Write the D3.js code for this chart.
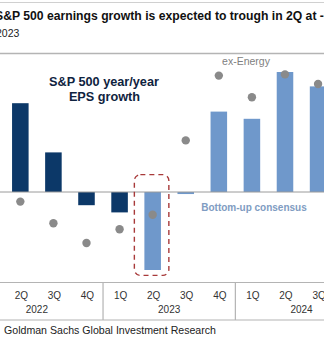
<!DOCTYPE html>
<html>
<head>
<meta charset="utf-8">
<script src="https://cdn.jsdelivr.net/npm/d3@7"></script>
<style>
  html, body { margin: 0; padding: 0; background: #fff; overflow: hidden; }
  svg { display: block; font-family: "Liberation Sans", Arial, sans-serif; }
</style>
</head>
<body>
<svg id="chart" width="324" height="338"></svg>
<script>
// Quarterly S&P 500 EPS growth, year/year (%)
const quarters = ["1Q", "2Q", "3Q", "4Q", "1Q", "2Q", "3Q", "4Q", "1Q", "2Q", "3Q", "4Q"];
const years    = ["2022", "2022", "2022", "2022", "2023", "2023", "2023", "2023", "2024", "2024", "2024", "2024"];
const categories = quarters.map((q, i) => q + years[i].slice(2));
// Bottom-up consensus / reported growth, all sectors
const epsGrowth      = [null, 7.4, 3.3, -1.1, -1.7, -6.5, -0.17, 6.7, 6.1, 10.0, 8.8, null];
// Growth excluding the Energy sector
const exEnergyGrowth = [null, -0.8, -2.6, -4.25, -3.1, -1.9, 4.3, 9.7, 7.9, 9.8, 9.0, null];
const reportedThrough = "1Q23";
const troughQuarter = "2Q23";
const yearGroups = ["2022", "2023", "2024"];

const colors = {
  reported: "#0c3868",
  estimate: "#6f98cb",
  exEnergy: "#8a8a8a",
  rule: "#b4b4b4",
  text: "#333333",
  callout: "#a83a3a"
};

const svg = d3.select("#chart");

// Header
svg.append("line").attr("x1", 0).attr("x2", 324).attr("y1", 2.5).attr("y2", 2.5)
  .attr("stroke", "#d0d0d0").attr("stroke-width", 1);
svg.append("text").attr("x", -5).attr("y", 20)
  .attr("font-size", 12.2).attr("font-weight", "bold").attr("fill", "#111")
  .text("S&P 500 earnings growth is expected to trough in 2Q at -6%");
svg.append("text").attr("x", -4).attr("y", 36.5)
  .attr("font-size", 10.5).attr("fill", "#222")
  .text("2023");
svg.append("line").attr("x1", 0).attr("x2", 324).attr("y1", 53.5).attr("y2", 53.5)
  .attr("stroke", colors.rule).attr("stroke-width", 1.6);

// Scales
const x = d3.scaleBand().domain(categories).range([-29.3, 367.7])
  .paddingInner(0.5).paddingOuter(0.25);
const y = d3.scaleLinear().domain([0, 10]).range([192, 72]);

const rows = categories.map((c, i) => ({
  cat: c, eps: epsGrowth[i], exE: exEnergyGrowth[i],
  reported: i <= categories.indexOf(reportedThrough)
}));

// Bars
svg.append("g").selectAll("rect")
  .data(rows.filter(d => d.eps !== null))
  .join("rect")
  .attr("x", d => x(d.cat))
  .attr("width", x.bandwidth())
  .attr("y", d => y(Math.max(0, d.eps)))
  .attr("height", d => Math.abs(y(d.eps) - y(0)))
  .attr("fill", d => d.reported ? colors.reported : colors.estimate);

// Zero line
svg.append("line").attr("x1", 0).attr("x2", 324)
  .attr("y1", y(0)).attr("y2", y(0))
  .attr("stroke", "#9a9a9a").attr("stroke-width", 1);

// Ex-Energy markers
svg.append("g").selectAll("circle")
  .data(rows.filter(d => d.exE !== null))
  .join("circle")
  .attr("cx", d => x(d.cat) + x.bandwidth() / 2)
  .attr("cy", d => y(d.exE))
  .attr("r", 4.2)
  .attr("fill", colors.exEnergy);

// Callout around the trough quarter
const tx = x(troughQuarter) + x.bandwidth() / 2;
svg.append("rect")
  .attr("x", tx - 18.3).attr("width", 34.5)
  .attr("y", y(1.45)).attr("height", y(-6.95) - y(1.45))
  .attr("rx", 6).attr("ry", 6)
  .attr("fill", "none").attr("stroke", colors.callout)
  .attr("stroke-width", 1.4).attr("stroke-dasharray", "5,4");

// Annotations
const ann = svg.append("g").attr("text-anchor", "middle");
ann.append("text").attr("x", 104).attr("y", 86)
  .attr("font-size", 12.7).attr("font-weight", "bold").attr("fill", "#0f2340")
  .text("S&P 500 year/year");
ann.append("text").attr("x", 104.5).attr("y", 100.5)
  .attr("font-size", 12.7).attr("font-weight", "bold").attr("fill", "#0f2340")
  .text("EPS growth");
ann.append("text").attr("x", 246).attr("y", 65)
  .attr("font-size", 10.5).attr("fill", "#808080")
  .text("ex-Energy");
ann.append("text").attr("x", 254).attr("y", 210.5)
  .attr("font-size", 10).attr("font-weight", "bold").attr("fill", "#7f9cc2")
  .text("Bottom-up consensus");

// Two-level category axis
const axisTop = 282.5, axisBottom = 320;
const axis = svg.append("g");
axis.append("line").attr("x1", 0).attr("x2", 324).attr("y1", axisTop).attr("y2", axisTop)
  .attr("stroke", colors.rule).attr("stroke-width", 1.2);
axis.append("line").attr("x1", 0).attr("x2", 324).attr("y1", axisBottom).attr("y2", axisBottom)
  .attr("stroke", colors.rule).attr("stroke-width", 1.2);

const gap = (x.step() - x.bandwidth()) / 2;
yearGroups.slice(1).forEach(yr => {
  const first = categories[years.indexOf(yr)];
  const bx = x(first) - gap;
  axis.append("line").attr("x1", bx).attr("x2", bx).attr("y1", axisTop).attr("y2", axisBottom)
    .attr("stroke", colors.rule).attr("stroke-width", 1.2);
});

axis.append("g").attr("text-anchor", "middle").selectAll("text")
  .data(categories)
  .join("text")
  .attr("x", d => x(d) + x.bandwidth() / 2 + 1)
  .attr("y", 298.5)
  .attr("font-size", 10).attr("fill", colors.text)
  .text((d, i) => quarters[i]);

axis.append("g").attr("text-anchor", "middle").selectAll("text")
  .data(yearGroups)
  .join("text")
  .attr("x", yr => {
    const cats = categories.filter((c, i) => years[i] === yr);
    return (x(cats[0]) + x(cats[cats.length - 1]) + x.bandwidth()) / 2;
  })
  .attr("y", 312.5)
  .attr("font-size", 10).attr("fill", colors.text)
  .text(d => d);

// Source line
svg.append("text").attr("x", 4).attr("y", 333.5)
  .attr("font-size", 10.6).attr("fill", "#222")
  .text("Goldman Sachs Global Investment Research");
</script>
</body>
</html>
